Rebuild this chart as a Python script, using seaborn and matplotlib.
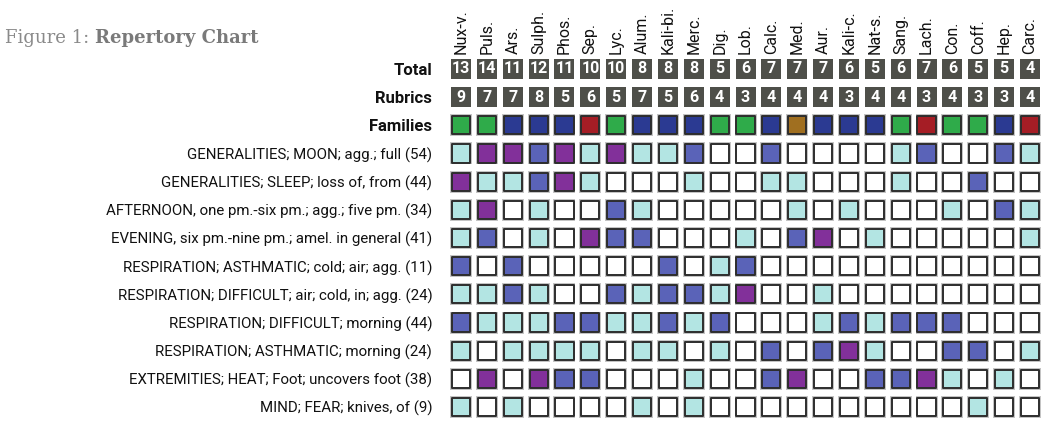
import matplotlib
matplotlib.use("Agg")
import matplotlib.pyplot as plt
import seaborn as sns
import pandas as pd

# ---------------- data ----------------
remedies = ["Nux-v.", "Puls.", "Ars.", "Sulph.", "Phos.", "Sep.", "Lyc.", "Alum.",
            "Kali-bi.", "Merc.", "Dig.", "Lob.", "Calc.", "Med.", "Aur.", "Kali-c.",
            "Nat-s.", "Sang.", "Lach.", "Con.", "Coff.", "Hep.", "Carc."]
totals = [13, 14, 11, 12, 11, 10, 10, 8, 8, 8, 5, 6, 7, 7, 7, 6, 5, 6, 7, 6, 5, 5, 4]
rubric_counts = [9, 7, 7, 8, 5, 6, 5, 7, 5, 6, 4, 3, 4, 4, 4, 3, 4, 4, 3, 4, 3, 3, 4]
families = ["Plant", "Plant", "Mineral", "Mineral", "Mineral", "Animal", "Plant", "Mineral",
            "Mineral", "Mineral", "Plant", "Plant", "Mineral", "Nosode", "Mineral", "Mineral",
            "Mineral", "Plant", "Animal", "Plant", "Plant", "Mineral", "Animal"]
header_labels = ["Total", "Rubrics", "Families"]
rubrics = [
    "GENERALITIES; MOON; agg.; full (54)",
    "GENERALITIES; SLEEP; loss of, from (44)",
    "AFTERNOON, one pm.-six pm.; agg.; five pm. (34)",
    "EVENING, six pm.-nine pm.; amel. in general (41)",
    "RESPIRATION; ASTHMATIC; cold; air; agg. (11)",
    "RESPIRATION; DIFFICULT; air; cold, in; agg. (24)",
    "RESPIRATION; DIFFICULT; morning (44)",
    "RESPIRATION; ASTHMATIC; morning (24)",
    "EXTREMITIES; HEAT; Foot; uncovers foot (38)",
    "MIND; FEAR; knives, of (9)",
]
grade_moon      = [1, 3, 3, 2, 3, 1, 3, 1, 1, 2, 0, 0, 2, 0, 0, 0, 0, 1, 2, 0, 0, 2, 1]
grade_sleep     = [3, 1, 1, 2, 3, 1, 0, 0, 0, 1, 0, 0, 1, 1, 0, 0, 0, 1, 0, 0, 2, 0, 0]
grade_afternoon = [1, 3, 0, 1, 0, 0, 2, 1, 0, 0, 0, 0, 0, 1, 0, 1, 0, 0, 0, 1, 0, 2, 1]
grade_evening   = [1, 2, 0, 1, 0, 3, 2, 2, 0, 0, 0, 1, 0, 2, 3, 0, 1, 0, 0, 0, 0, 0, 1]
grade_asth_cold = [2, 0, 2, 0, 0, 0, 0, 0, 2, 0, 1, 2, 0, 0, 0, 0, 0, 0, 0, 0, 0, 0, 0]
grade_diff_cold = [1, 1, 2, 1, 0, 0, 2, 1, 2, 2, 1, 3, 0, 0, 1, 0, 0, 0, 0, 0, 0, 0, 0]
grade_diff_morn = [2, 1, 1, 1, 2, 2, 1, 1, 2, 1, 2, 0, 0, 0, 1, 2, 1, 2, 2, 2, 0, 0, 0]
grade_asth_morn = [1, 0, 1, 1, 1, 1, 0, 1, 1, 0, 1, 0, 2, 0, 2, 3, 1, 0, 0, 2, 2, 0, 1]
grade_feet      = [0, 3, 0, 3, 2, 2, 0, 0, 0, 1, 0, 0, 2, 3, 0, 0, 2, 2, 3, 1, 0, 1, 0]
grade_knives    = [1, 0, 1, 0, 0, 0, 0, 1, 0, 1, 0, 0, 0, 0, 0, 0, 0, 0, 0, 0, 1, 0, 0]
grades = [grade_moon, grade_sleep, grade_afternoon, grade_evening, grade_asth_cold,
          grade_diff_cold, grade_diff_morn, grade_asth_morn, grade_feet, grade_knives]

# ---------------- styles ----------------
grade_colors = {"0": "#ffffff", "1": "#b3e5e3", "2": "#5a63b8", "3": "#82309a"}
family_colors = {"Plant": "#2fab4a", "Mineral": "#2b3a92", "Animal": "#a51d25", "Nosode": "#a06f20"}
header_fill = "#4e4f49"
edge_dark = "#2d2d2d"
halo = "#c4c4c4"

sns.set_theme(style="white")
narrow = ["Liberation Sans Narrow", "Roboto", "DejaVu Sans"]
plt.rcParams["font.family"] = narrow

fig = plt.figure(figsize=(10.5, 4.3), dpi=100)
W, H = 1050, 430
ax_left, ax_width = 448.1, 594.8
ax_top, ax_height = 54.9, 366.2
ax = fig.add_axes([ax_left / W, 1 - (ax_top + ax_height) / H, ax_width / W, ax_height / H])

n_head = len(header_labels)
ncol = len(remedies)

rows = []
for r, g in enumerate(grades):
    for c, v in enumerate(g):
        rows.append({"col": c, "row": r + n_head, "grade": str(v)})
grid = pd.DataFrame(rows)

fam = pd.DataFrame({"col": range(ncol), "row": [2] * ncol, "family": families})
head = pd.DataFrame({"col": list(range(ncol)) * 2,
                     "row": [0] * ncol + [1] * ncol,
                     "value": totals + rubric_counts})

cell_pt = 13.0
lw = 1.4
halo_s = (cell_pt + lw + 1.3) ** 2

both = pd.concat([grid[["col", "row"]], fam[["col", "row"]]])
sns.scatterplot(data=both, x="col", y="row", marker="s", s=halo_s, color=halo,
                linewidth=0, ax=ax, legend=False, zorder=1)
sns.scatterplot(data=grid, x="col", y="row", hue="grade", palette=grade_colors,
                marker="s", s=cell_pt ** 2, edgecolor=edge_dark, linewidth=lw,
                ax=ax, legend=False, zorder=2)
sns.scatterplot(data=fam, x="col", y="row", hue="family", palette=family_colors,
                marker="s", s=cell_pt ** 2, edgecolor=edge_dark, linewidth=lw,
                ax=ax, legend=False, zorder=2)
sns.scatterplot(data=head, x="col", y="row", marker="s", s=(cell_pt + lw) ** 2,
                color=header_fill, linewidth=0, ax=ax, legend=False, zorder=2)
for _, rw in head.iterrows():
    ax.text(rw["col"], rw["row"], str(rw["value"]), ha="center", va="center",
            color="white", fontsize=11.5, fontweight="bold", zorder=3)

ax.set_xlim(-0.5, ncol - 0.5)
ax.set_ylim(n_head + len(rubrics) - 0.5, -0.5)
ax.set_xlabel("")
ax.set_ylabel("")

ax.xaxis.tick_top()
ax.set_xticks(range(ncol))
ax.set_xticklabels(remedies, rotation=90, fontsize=11.5, color="#111111")
ax.tick_params(axis="x", length=0, pad=1)

ax.set_yticks(range(n_head + len(rubrics)))
ax.set_yticklabels(header_labels + rubrics, fontsize=10.8, color="#111111")
for i, t in enumerate(ax.get_yticklabels()):
    if i < n_head:
        t.set_fontweight("bold")
        t.set_fontsize(12)
ax.tick_params(axis="y", length=0, pad=11.5)

for s in ax.spines.values():
    s.set_visible(False)
ax.grid(False)

t1 = fig.text(5 / W, 1 - 38 / H, "Figure 1:", family=["DejaVu Serif"], fontsize=13,
              color="#8a8a8a", va="center", ha="left")
fig.canvas.draw()
bb = t1.get_window_extent(renderer=fig.canvas.get_renderer())
fig.text((bb.x1 + 6) / W, 1 - 38 / H, "Repertory Chart", family=["DejaVu Serif"],
         fontsize=13, fontweight="bold", color="#7a7a7a", va="center", ha="left")

fig.savefig("out.png", dpi=100)
